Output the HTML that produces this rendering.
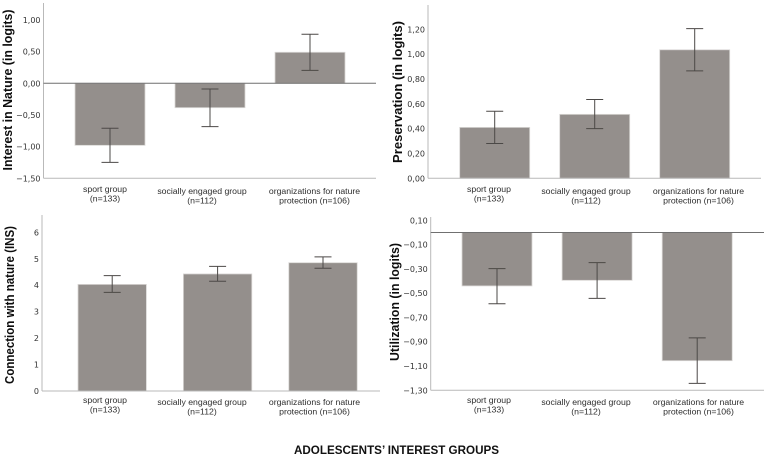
<!DOCTYPE html>
<html lang="en">
<head>
<meta charset="utf-8">
<title>Adolescents' interest groups bar charts</title>
<style>
html,body{margin:0;padding:0;background:#fff;width:767px;height:457px;overflow:hidden}
svg{display:block}
.tick{font:8px "DejaVu Sans","Liberation Sans",sans-serif;fill:#333}
.cat{font:8.7px "Liberation Sans",sans-serif;fill:#2e2e2e}
.ytitle{font:bold 13px "Liberation Sans",sans-serif;fill:#111}
.xtitle{font:bold 12px "Liberation Sans",sans-serif;fill:#111}
</style>
</head>
<body>
<svg id="figure" width="767" height="457" viewBox="0 0 767 457" xmlns="http://www.w3.org/2000/svg">
<defs><filter id="soft" x="-5%" y="-5%" width="110%" height="110%"><feGaussianBlur stdDeviation="0.3"/></filter></defs>
<g id="plots" filter="url(#soft)"></g>
<text class="xtitle" x="396.5" y="454" text-anchor="middle" textLength="205" lengthAdjust="spacingAndGlyphs">ADOLESCENTS’ INTEREST GROUPS</text>
</svg>
<script>
const categoryFirstLines = ['sport group', 'socially engaged group', 'organizations for nature'];
const categorySecondLines = ['(n=133)', '(n=112)', 'protection (n=106)'];

const interestMeans = [-0.98, -0.385, 0.49];
const interestLower = [-1.25, -0.685, 0.205];
const interestUpper = [-0.71, -0.09, 0.775];
const interestTicks = [1, 0.5, 0, -0.5, -1, -1.5];

const preservationMeans = [0.41, 0.515, 1.035];
const preservationLower = [0.28, 0.40, 0.865];
const preservationUpper = [0.54, 0.635, 1.205];
const preservationTicks = [1.2, 1, 0.8, 0.6, 0.4, 0.2, 0];

const connectionMeans = [4.03, 4.425, 4.85];
const connectionLower = [3.73, 4.15, 4.64];
const connectionUpper = [4.36, 4.71, 5.07];
const connectionTicks = [6, 5, 4, 3, 2, 1, 0];

const utilizationMeans = [-0.44, -0.394, -1.056];
const utilizationLower = [-0.587, -0.543, -1.243];
const utilizationUpper = [-0.298, -0.248, -0.868];
const utilizationTicks = [0.1, -0.1, -0.3, -0.5, -0.7, -0.9, -1.1, -1.3];

const NS = 'http://www.w3.org/2000/svg';
const root = document.getElementById('plots');

function make(parent, tag, attrs, text) {
  const el = document.createElementNS(NS, tag);
  for (const k in attrs) el.setAttribute(k, attrs[k]);
  if (text !== undefined) el.textContent = text;
  parent.appendChild(el);
  return el;
}

function fmt(v, d) {
  const s = Math.abs(v).toFixed(d).replace('.', ',');
  return (v < 0 ? '\u2212' : '') + s;
}

function drawPanel(p) {
  const g = make(root, 'g', {});
  
  

  // axis function: maps a value through two calibration ticks
  const yScale = v => p.y1 + (v - p.v1) * (p.y2 - p.y1) / (p.v2 - p.v1);
  const xScale = i => p.xStart + i * p.xStep;

  p.means.forEach((m, i) => {
    const y0 = yScale(0), ym = yScale(m);
    const bar = make(g, 'rect', {
      x: xScale(i) - p.barW / 2, y: Math.min(y0, ym),
      width: p.barW, height: Math.abs(ym - y0),
      fill: '#948f8c', stroke: '#d9d7d5', 'stroke-width': 0.8
    });
    
    
  });

  const yAxis = make(g, 'line', {x1: p.axisX, x2: p.axisX, y1: p.axisTop, y2: p.axisBottom, stroke: '#b9b9b9', 'stroke-width': 1});
  
  
  const xAxis = make(g, 'line', {x1: p.axisX, x2: p.axisRight, y1: p.axisBottom, y2: p.axisBottom, stroke: '#b9b9b9', 'stroke-width': 1});
  
  

  if (p.zeroLine) {
    const zero = make(g, 'line', {x1: p.axisX, x2: p.axisRight, y1: yScale(0), y2: yScale(0), stroke: '#6f6f6f', 'stroke-width': 1});
    
    
  }

  p.means.forEach((m, i) => {
    const cx = xScale(i);
    const eb = make(g, 'g', {stroke: '#4c4846', 'stroke-width': 1, fill: 'none'});
    
    
    make(eb, 'line', {x1: cx, x2: cx, y1: yScale(p.lower[i]), y2: yScale(p.upper[i])});
    make(eb, 'line', {x1: cx - 8.5, x2: cx + 8.5, y1: yScale(p.lower[i]), y2: yScale(p.lower[i])});
    make(eb, 'line', {x1: cx - 8.5, x2: cx + 8.5, y1: yScale(p.upper[i]), y2: yScale(p.upper[i])});
  });

  p.ticks.forEach(t => {
    const lab = make(g, 'text', {class: 'tick', x: p.axisX - 3, y: yScale(t) + 3, 'text-anchor': 'end'}, fmt(t, p.decimals));
    
    
  });

  categoryFirstLines.forEach((c, i) => {
    const dy = i === 0 ? p.catY - 2 : p.catY;
    const lab = make(g, 'text', {class: 'cat', 'text-anchor': 'middle'});
    
    
    make(lab, 'tspan', {x: p.catX + p.catGaps[i], y: dy}, c);
    make(lab, 'tspan', {x: p.catX + p.catGaps[i], y: dy + 9.7}, categorySecondLines[i]);
  });

  const title = make(g, 'text', {
    class: 'ytitle', 'text-anchor': 'middle',
    transform: 'translate(' + p.titleX + ',' + p.titleY + ') rotate(-90)',
    textLength: p.titleLen, lengthAdjust: 'spacingAndGlyphs'
  }, p.title);
  
  
}

drawPanel({
  name: 'interest', title: 'Interest in Nature (in logits)',
  means: interestMeans, lower: interestLower, upper: interestUpper, ticks: interestTicks, decimals: 2,
  v1: 0, y1: 83.3, v2: 1, y2: 20,
  xStart: 110, xStep: 100, barW: 70,
  axisX: 43.5, axisTop: 3, axisBottom: 178.3, axisRight: 376, zeroLine: true,
  catX: 105, catGaps: [0, 97, 209.5], catY: 194,
  titleX: 12, titleY: 90, titleLen: 161
});

drawPanel({
  name: 'preservation', title: 'Preservation (in logits)',
  means: preservationMeans, lower: preservationLower, upper: preservationUpper, ticks: preservationTicks, decimals: 2,
  v1: 0, y1: 178.3, v2: 1.2, y2: 29.3,
  xStart: 494.7, xStep: 100, barW: 70,
  axisX: 428, axisTop: 5, axisBottom: 178.3, axisRight: 761, zeroLine: false,
  catX: 489, catGaps: [0, 97, 209.5], catY: 194,
  titleX: 402, titleY: 92, titleLen: 142
});

drawPanel({
  name: 'connection', title: 'Connection with nature (INS)',
  means: connectionMeans, lower: connectionLower, upper: connectionUpper, ticks: connectionTicks, decimals: 0,
  v1: 0, y1: 391, v2: 6, y2: 232.3,
  xStart: 112.2, xStep: 105.4, barW: 68.4,
  axisX: 42, axisTop: 215, axisBottom: 391, axisRight: 380, zeroLine: false,
  catX: 105, catGaps: [0, 97, 209.5], catY: 405,
  titleX: 14, titleY: 305, titleLen: 158
});

drawPanel({
  name: 'utilization', title: 'Utilization (in logits)',
  means: utilizationMeans, lower: utilizationLower, upper: utilizationUpper, ticks: utilizationTicks, decimals: 2,
  v1: 0, y1: 232.5, v2: -1.3, y2: 390.3,
  xStart: 497, xStep: 100.1, barW: 70,
  axisX: 430.7, axisTop: 217, axisBottom: 390.3, axisRight: 764, zeroLine: true,
  catX: 489, catGaps: [0, 97, 209.5], catY: 405,
  titleX: 399, titleY: 302, titleLen: 118
});
</script>
</body>
</html>
